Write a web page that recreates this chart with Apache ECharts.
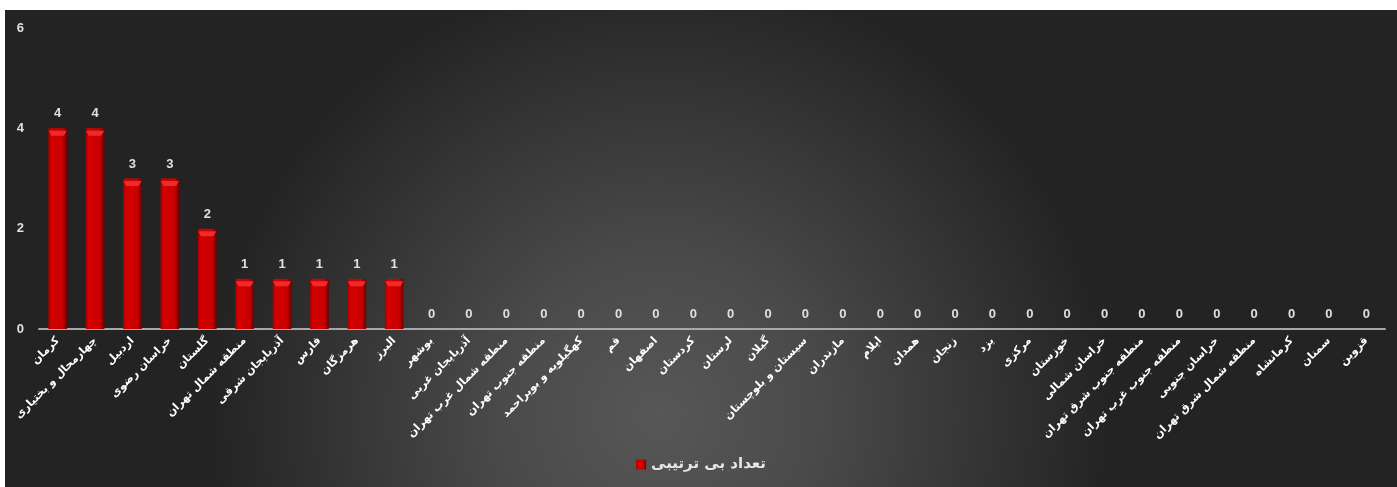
<!DOCTYPE html>
<html lang="fa">
<head>
<meta charset="UTF-8">
<title>تعداد بی ترتیبی</title>
<script src="https://cdn.jsdelivr.net/npm/echarts@6/dist/echarts.min.js"></script>
<style>
  html, body { margin: 0; padding: 0; background: #fff; }
  #main { position: absolute; left: 5px; top: 10px; width: 1392px; height: 477px; }
</style>
</head>
<body>
<div id="main"></div>
<script>
var provinces = [
  'کرمان', 'چهارمحال و بختیاری', 'اردبیل', 'خراسان رضوی', 'گلستان',
  'منطقه شمال تهران', 'آذربایجان شرقی', 'فارس', 'هرمزگان', 'البرز',
  'بوشهر', 'آذربایجان غربی', 'منطقه شمال غرب تهران', 'منطقه جنوب تهران',
  'کهگیلویه و بویراحمد', 'قم', 'اصفهان', 'کردستان', 'لرستان', 'گیلان',
  'سیستان و بلوچستان', 'مازندران', 'ایلام', 'همدان', 'زنجان', 'یزد', 'مرکزی',
  'خوزستان', 'خراسان شمالی', 'منطقه جنوب شرق تهران', 'منطقه جنوب غرب تهران',
  'خراسان جنوبی', 'منطقه شمال شرق تهران', 'کرمانشاه', 'سمنان', 'قزوین'
];
var counts = [
  4, 4, 3, 3, 2, 1, 1, 1, 1, 1,
  0, 0, 0, 0, 0, 0, 0, 0, 0, 0,
  0, 0, 0, 0, 0, 0, 0, 0, 0, 0,
  0, 0, 0, 0, 0, 0
];
var seriesName = 'تعداد بی ترتیبی';

// bevel cap only on bars that have a height
var bevelData = counts.map(function (v) { return v > 0 ? v : '-'; });

var chart = echarts.init(document.getElementById('main'));

var barColor = new echarts.graphic.LinearGradient(0, 0, 1, 0, [
  { offset: 0, color: '#a00000' },
  { offset: 0.15, color: '#d40000' },
  { offset: 0.75, color: '#c80000' },
  { offset: 1, color: '#6e0000' }
]);

var option = {
  backgroundColor: {
    type: 'radial',
    x: 0.47, y: 0.85, r: 0.95,
    colorStops: [
      { offset: 0, color: '#575757' },
      { offset: 0.35, color: '#4a4a4a' },
      { offset: 0.7, color: '#353535' },
      { offset: 1, color: '#232323' }
    ]
  },
  textStyle: { fontFamily: 'DejaVu Sans, Arial, sans-serif' },
  grid: { left: 34, right: 12, top: 18, bottom: 158 },
  legend: {
    bottom: 10,
    left: 'center',
    icon: 'rect',
    itemWidth: 10,
    itemHeight: 10,
    itemGap: 5,
    textStyle: { color: '#e6e6e6', fontSize: 15, fontWeight: 'bold' },
    data: [seriesName]
  },
  xAxis: {
    type: 'category',
    data: provinces,
    axisLine: { lineStyle: { color: '#a8a8a8', width: 2 } },
    axisTick: { show: false },
    axisLabel: {
      interval: 0,
      rotate: 45,
      margin: 10,
      color: '#ffffff',
      fontSize: 11,
      fontWeight: 'bold',
      fontFamily: 'DejaVu Sans'
    }
  },
  yAxis: {
    type: 'value',
    min: 0,
    max: 6,
    interval: 2,
    axisLine: { show: false },
    axisTick: { show: false },
    splitLine: { show: false },
    axisLabel: {
      margin: 15,
      color: '#e0e0e0',
      fontSize: 13,
      fontWeight: 'bold',
      fontFamily: 'Arial'
    }
  },
  series: [{
    name: seriesName,
    type: 'bar',
    data: counts,
    barWidth: '50%',
    itemStyle: { color: barColor },
    label: {
      show: true,
      position: 'top',
      distance: 8,
      color: '#e0e0e0',
      fontSize: 13,
      fontWeight: 'bold',
      fontFamily: 'Arial'
    },
    z: 2
  }, {
    name: 'bevel',
    type: 'pictorialBar',
    data: bevelData,
    symbol: 'path://M0,0 L10,0 L8.5,3 L1.5,3 Z',
    symbolSize: [18, 5],
    symbolPosition: 'end',
    symbolOffset: [0, '50%'],
    itemStyle: { color: '#ee2a2a' },
    silent: true,
    z: 3
  }]
};

chart.setOption(option);
</script>
</body>
</html>
